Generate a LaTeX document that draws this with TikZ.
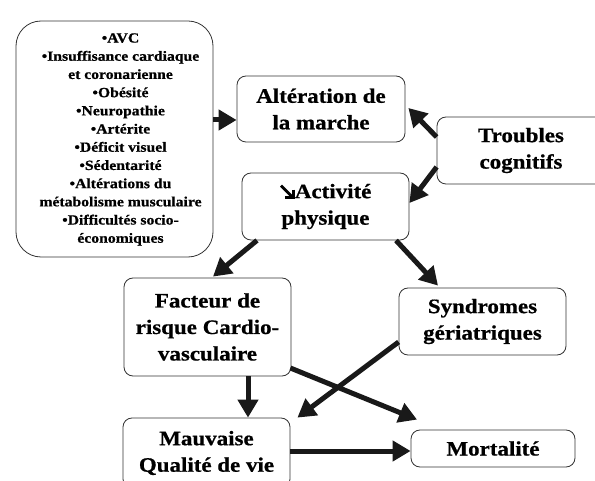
\documentclass[tikz,border=0pt]{standalone}
\usepackage{fontspec}
\setmainfont{Liberation Serif}[BoldFeatures={FakeStretch=1.12,FakeBold=0.7}]
\usetikzlibrary{arrows.meta,calc}
% heavy south-east arrow used before "Activité"
\newsavebox\decreasebox
\sbox\decreasebox{\tikz[x=1pt,y=1pt,baseline=0pt]{
  \draw[line width=2.8pt] (0.5,12.5) -- (11.5,1.5);
  \draw[line width=2.8pt, miter limit=4] (13,8.5) -- (13,0.6) -- (4.5,0.6);}}
\begin{document}
\begin{tikzpicture}[x=1pt,y=-1pt,
  box/.style={draw=black!80, line width=0.8pt, rounded corners=9pt, align=center,
    inner sep=0pt, font=\fontsize{20.5}{26.5}\selectfont\bfseries},
  link/.style={line width=5pt, draw=black!90,
    -{Triangle[length=18pt,width=20pt]}}]
\useasboundingbox[fill=white] (0,0) rectangle (595,481);

% causes list (text set slightly right of the box centre)
\node[box, minimum width=197pt, minimum height=236pt, rounded corners=25pt,
  font=\fontsize{14}{18.2}\selectfont\bfseries] (risks) at (114.5,139)
  {\hspace*{12pt}\begin{tabular}{@{}c@{}}
   •AVC\\ •Insuffisance cardiaque\\ et coronarienne\\ •Obésité\\ •Neuropathie\\
   •Artérite\\ •Déficit visuel\\ •Sédentarité\\ •Altérations du\\
   métabolisme musculaire\\ •Difficultés socio-\\ économiques
   \end{tabular}};

\node[box, minimum width=168pt, minimum height=66pt] (alt) at (321,109)
  {Altération de\\ la marche};
\node[box, minimum width=168pt, minimum height=67pt] (troubles) at (521,150.5)
  {Troubles\\ cognitifs};
\node[box, minimum width=167pt, minimum height=67pt] (activ) at (325.5,206.5)
  {\usebox\decreasebox Activité\\ physique};
\node[box, minimum width=167pt, minimum height=98pt] (facteur) at (207.5,327)
  {Facteur de\\ risque Cardio-\\ vasculaire};
\node[box, minimum width=167pt, minimum height=67pt] (synd) at (482.5,321.5)
  {Syndromes\\ gériatriques};
\node[box, minimum width=167pt, minimum height=70pt] (mauv) at (206.5,453)
  {Mauvaise\\ Qualité de vie};
\node[box, minimum width=164pt, minimum height=37pt] (mort) at (493,448.5)
  {Mortalité};

% links
\draw[link] ($(risks.east)+(0,-19)$) -- ($(alt.west)+(0,11)$);
\draw[link] ($(troubles.west)+(0,-13.5)$) -- ($(alt.east)+(3,-1)$);
\draw[link] ($(troubles.west)+(0,16.5)$) -- ($(activ.east)+(0,-3.5)$);
\draw[link] ($(activ.south)+(-68.5,0)$) -- ($(facteur.north)+(5.5,-1)$);
\draw[link] ($(activ.south)+(70.5,0)$) -- ($(synd.north)+(-44.5,-2)$);
\draw[link] ($(facteur.south)+(40.5,0)$) -- ($(mauv.north)+(41.5,0)$);
\draw[link] ($(facteur.east)+(-1,41)$) -- ($(mort.north)+(-76,-10)$);
\draw[link] ($(synd.west)+(0,20.5)$) -- ($(mauv.north east)+(7,0)$);
\draw[link] ($(mauv.east)+(0,-2)$) -- ($(mort.west)+(0,2.5)$);
\end{tikzpicture}
\end{document}
